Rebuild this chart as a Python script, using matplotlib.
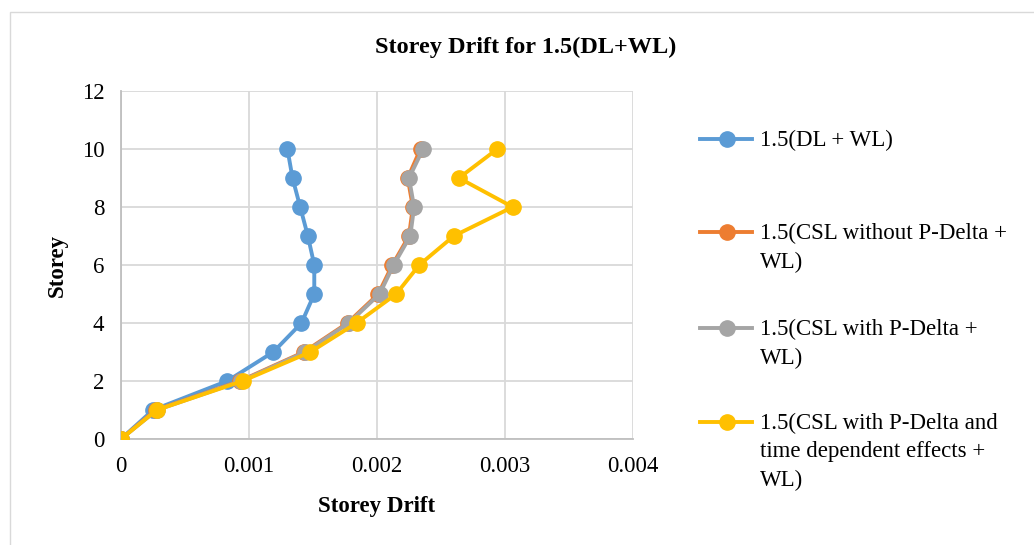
import matplotlib.pyplot as plt
from matplotlib.lines import Line2D
from matplotlib.patches import Rectangle

plt.rcParams['font.family'] = ['Liberation Serif', 'DejaVu Serif']

storey = [0, 1, 2, 3, 4, 5, 6, 7, 8, 9, 10]
dl_wl = [0, 0.00025, 0.00083, 0.00119, 0.00141, 0.00151, 0.00151, 0.00146, 0.0014, 0.00134, 0.0013]
csl_no_pd = [0, 0.00027, 0.00093, 0.00143, 0.00177, 0.00201, 0.00212, 0.00225, 0.00228, 0.00224, 0.00234]
csl_pd = [0, 0.00028, 0.00094, 0.00144, 0.00178, 0.00202, 0.00213, 0.00226, 0.00229, 0.00225, 0.00236]
csl_pd_time = [0, 0.00028, 0.00095, 0.00148, 0.00184, 0.00215, 0.00233, 0.0026, 0.00306, 0.00264, 0.00294]

labels = ['1.5(DL + WL)',
          '1.5(CSL without P-Delta +\nWL)',
          '1.5(CSL with P-Delta +\nWL)',
          '1.5(CSL with P-Delta and\ntime dependent effects +\nWL)']
colors = ['#5b9bd5', '#ed7d31', '#a5a5a5', '#ffc000']
series = [dl_wl, csl_no_pd, csl_pd, csl_pd_time]

W, H = 1034, 545
fig = plt.figure(figsize=(W / 100, H / 100), dpi=100)
ax = fig.add_axes([121 / W, 1 - 439 / H, (633 - 121) / W, (439 - 91) / H])

fig.add_artist(Rectangle((10 / W, -0.1), 1.2, 1 - 12 / H + 0.1, transform=fig.transFigure,
                         fill=False, edgecolor='#d9d9d9', linewidth=1))

for vals, c in zip(series, colors):
    ax.plot(vals, storey, color=c, linewidth=2.8, marker='o', markersize=11, zorder=3)

ax.set_xlim(0, 0.004)
ax.set_ylim(0, 12)
ax.set_xticks([0, 0.001, 0.002, 0.003, 0.004])
ax.set_xticklabels(['0', '0.001', '0.002', '0.003', '0.004'])
ax.set_yticks(range(0, 13, 2))
ax.grid(True, color='#d9d9d9', linewidth=1.3)
ax.set_axisbelow(True)
for s in ['top', 'right']:
    ax.spines[s].set_visible(False)
for s in ['left', 'bottom']:
    ax.spines[s].set_color('#bfbfbf')
    ax.spines[s].set_linewidth(1.3)
ax.tick_params(length=0, labelsize=16.5, pad=12, colors='black')
ax.set_xlabel('Storey Drift', fontsize=16.5, fontweight='bold', labelpad=14)
ax.set_ylabel('Storey', fontsize=16.5, fontweight='bold', labelpad=10)

fig.text(526 / W, 1 - 47 / H, 'Storey Drift for 1.5(DL+WL)', ha='center', va='center',
         fontsize=17.5, fontweight='bold')

# legend drawn by hand so markers line up with the first text line
legend_y = [139, 232, 328, 422]
for lab, c, y in zip(labels, colors, legend_y):
    fy = 1 - y / H
    fig.add_artist(Line2D([700 / W, 752 / W], [fy, fy], transform=fig.transFigure,
                          color=c, linewidth=2.8))
    fig.add_artist(Line2D([727 / W], [fy], transform=fig.transFigure, color=c,
                          marker='o', markersize=11))
    fig.text(760 / W, fy + 9 / H, lab, ha='left', va='top', fontsize=16.5,
             linespacing=1.45)

fig.savefig('out.png', dpi=100)
